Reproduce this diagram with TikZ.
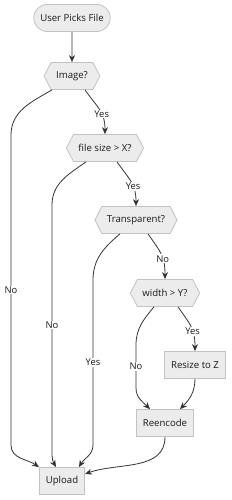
\documentclass[tikz,border=0pt]{standalone}
\usepackage{fontspec}
\setmainfont{Open Sans}
\usetikzlibrary{shapes.symbols, shapes.misc, arrows.meta, positioning}

\definecolor{nodefill}{HTML}{ECECEC}
\definecolor{nodeline}{HTML}{C2C2C2}
\definecolor{edgeline}{HTML}{333333}

\begin{document}
\begin{tikzpicture}[
    x=1pt, y=1pt,
    base/.style={draw=nodeline, fill=nodefill, line width=0.8pt, text=black!90, font=\fontsize{9.6}{11}\selectfont, minimum height=27pt},
    startbox/.style={base, rounded rectangle, inner xsep=6pt},
    decision/.style={base, signal, signal to=east and west, signal pointer angle=125, inner xsep=5pt},
    procbox/.style={base, rectangle, inner xsep=6.5pt},
    flow/.style={-{Stealth[length=7pt, width=6pt]}, draw=edgeline, line width=0.8pt},
    lbl/.style={fill=white, inner sep=1pt, text=black!90, font=\fontsize{9.4}{10}\selectfont}
  ]
    \useasboundingbox (0,0) rectangle (232,-500);

    % Nodes
    \node[startbox] (start) at (72,-18) {User Picks File};
    \node[decision] (img) at (72,-76) {Image?};
    \node[decision] (fsize) at (105,-148) {file size > X?};
    \node[decision] (transp) at (136,-220) {Transparent?};
    \node[decision] (width) at (165,-293) {width > Y?};
    \node[procbox] (resize) at (195,-365) {Resize to Z};
    \node[procbox] (reenc) at (165,-423) {Reencode};
    \node[procbox] (upload) at (62,-481) {Upload};

    % Connections
    \draw[flow] (start) -- (img);
    \draw[flow] ([xshift=13pt]img.south) to[out=-55, in=90, looseness=1.2] node[lbl, pos=0.6] {Yes} (fsize.north);
    \draw[flow] ([xshift=-20pt]img.south) to[out=-150, in=90] (11,-135)
      -- node[lbl] {No} (11,-445) to[out=-90, in=145] (upload.north west);
    \draw[flow] ([xshift=12pt]fsize.south) to[out=-55, in=90, looseness=1.2] node[lbl, pos=0.6] {Yes} (transp.north);
    \draw[flow] ([xshift=-19pt]fsize.south) to[out=-145, in=90] (52,-205)
      -- node[lbl] {No} (52,-445) to[out=-90, in=120] ([xshift=-6pt]upload.north);
    \draw[flow] ([xshift=12pt]transp.south) to[out=-55, in=90, looseness=1.2] node[lbl, pos=0.6] {No} (width.north);
    \draw[flow] ([xshift=-16pt]transp.south) to[out=-140, in=90] (93,-280)
      -- node[lbl] {Yes} (93,-445) to[out=-90, in=60] ([xshift=17pt]upload.north);
    \draw[flow] ([xshift=13pt]width.south) to[out=-55, in=90, looseness=1.2] node[lbl, pos=0.6] {Yes} (resize.north);
    \draw[flow] ([xshift=-11pt]width.south) to[out=-130, in=90] (136,-345)
      -- node[lbl] {No} (136,-388) to[out=-90, in=135] ([xshift=-15pt]reenc.north);
    \draw[flow] (resize.south) to[out=-90, in=45] ([xshift=15pt]reenc.north);
    \draw[flow] (reenc.south) to[out=-90, in=20] ([yshift=7pt]upload.east);

  \end{tikzpicture}
\end{document}
